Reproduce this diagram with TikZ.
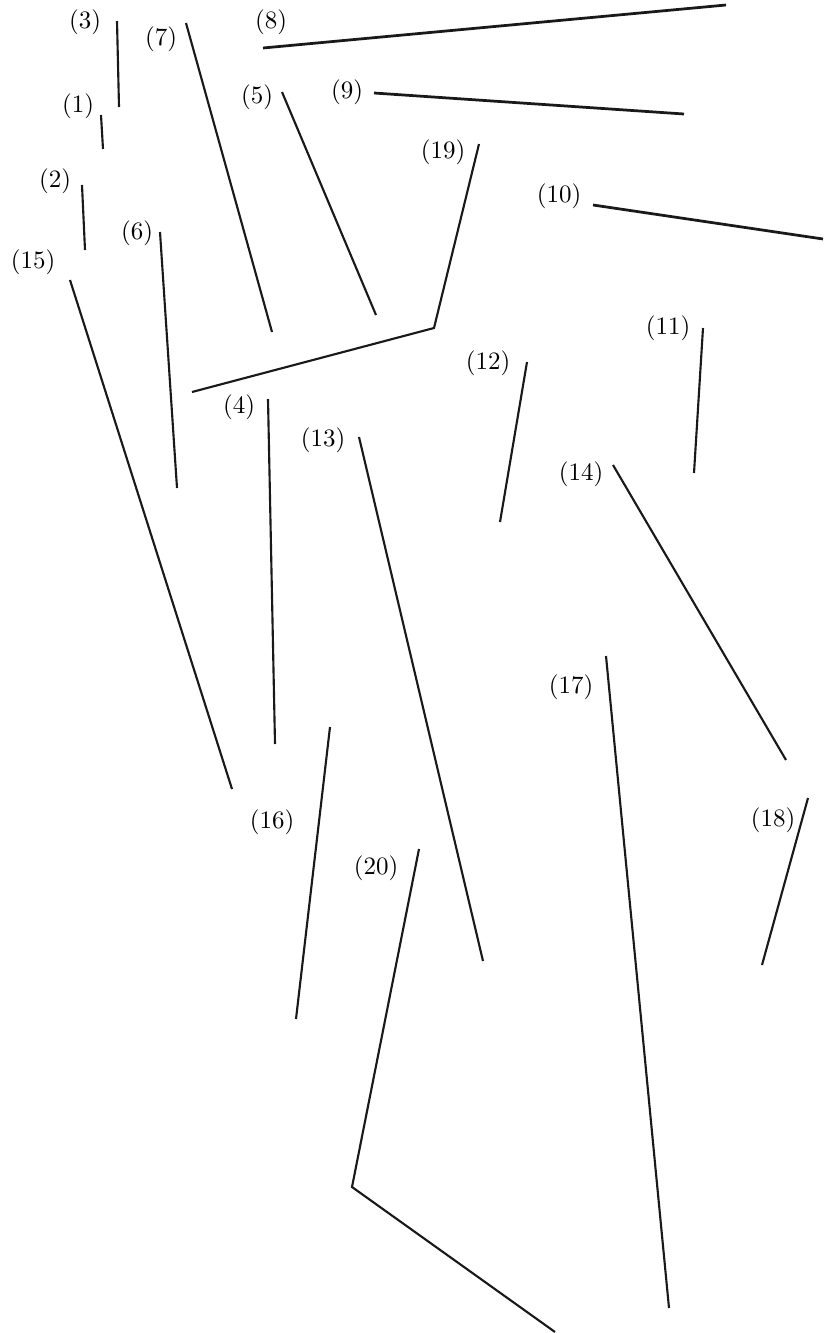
\documentclass[tikz,border=0pt]{standalone}
\usepackage{tikz}
\usetikzlibrary{positioning}

\begin{document}
\begin{tikzpicture}[x=0.4pt, y=-0.4pt,
  lab/.style={inner sep=0pt},
  seg/.style={line width=0.85pt, black!90},
  segthick/.style={line width=1.1pt, black!90}]
% page frame (pixel grid, origin top left)
\useasboundingbox (0,0) rectangle (823,1333);
% labels
\foreach \n/\x/\y in {1/78/106, 2/55/181, 3/85/22, 4/239/407, 5/257/97,
  6/137/233, 7/161/39, 8/271/22, 9/347/92, 10/559/196, 11/668/328,
  12/488/363, 13/323/440, 14/581/474, 15/33/262, 16/272/822,
  17/571/687, 18/773/820, 19/443/152, 20/376/868}{
  \node[lab] (l\n) at (\x,\y) {(\n)};
}
% plain segments
\foreach \n/\ax/\ay/\bx/\by in {1/101/115/103/149, 2/82/185/85/250,
  3/117/21/119/107, 4/268/399/275/744, 5/282/92/376/315,
  6/160/232/177/488, 7/186/23/272/332, 11/703/328/694/473,
  12/527/362/500/522, 13/359/437/483/961, 14/613/465/786/760,
  15/70/280/232/789, 16/330/727/296/1019, 17/606/656/669/1308,
  18/808/798/762/965}{
  \coordinate (a\n) at (\ax,\ay);
  \coordinate (b\n) at (\bx,\by);
  \draw[seg] (a\n) -- (b\n);
}
% the near-horizontal ones are a bit heavier
\foreach \n/\ax/\ay/\bx/\by in {8/263/48/726/5, 9/374/93/684/114,
  10/593/205/823/239}{
  \coordinate (a\n) at (\ax,\ay);
  \coordinate (b\n) at (\bx,\by);
  \draw[segthick] (a\n) -- (b\n);
}
% bent ones (19) and (20)
\coordinate (a19) at (479,144);
\coordinate (c19) at (434,328);
\coordinate (b19) at (192,392);
\draw[seg] (a19) -- (c19) -- (b19);
\coordinate (a20) at (419,849);
\coordinate (c20) at (352,1187);
\coordinate (b20) at (555,1332);
\draw[seg] (a20) -- (c20) -- (b20);
\end{tikzpicture}
\end{document}
